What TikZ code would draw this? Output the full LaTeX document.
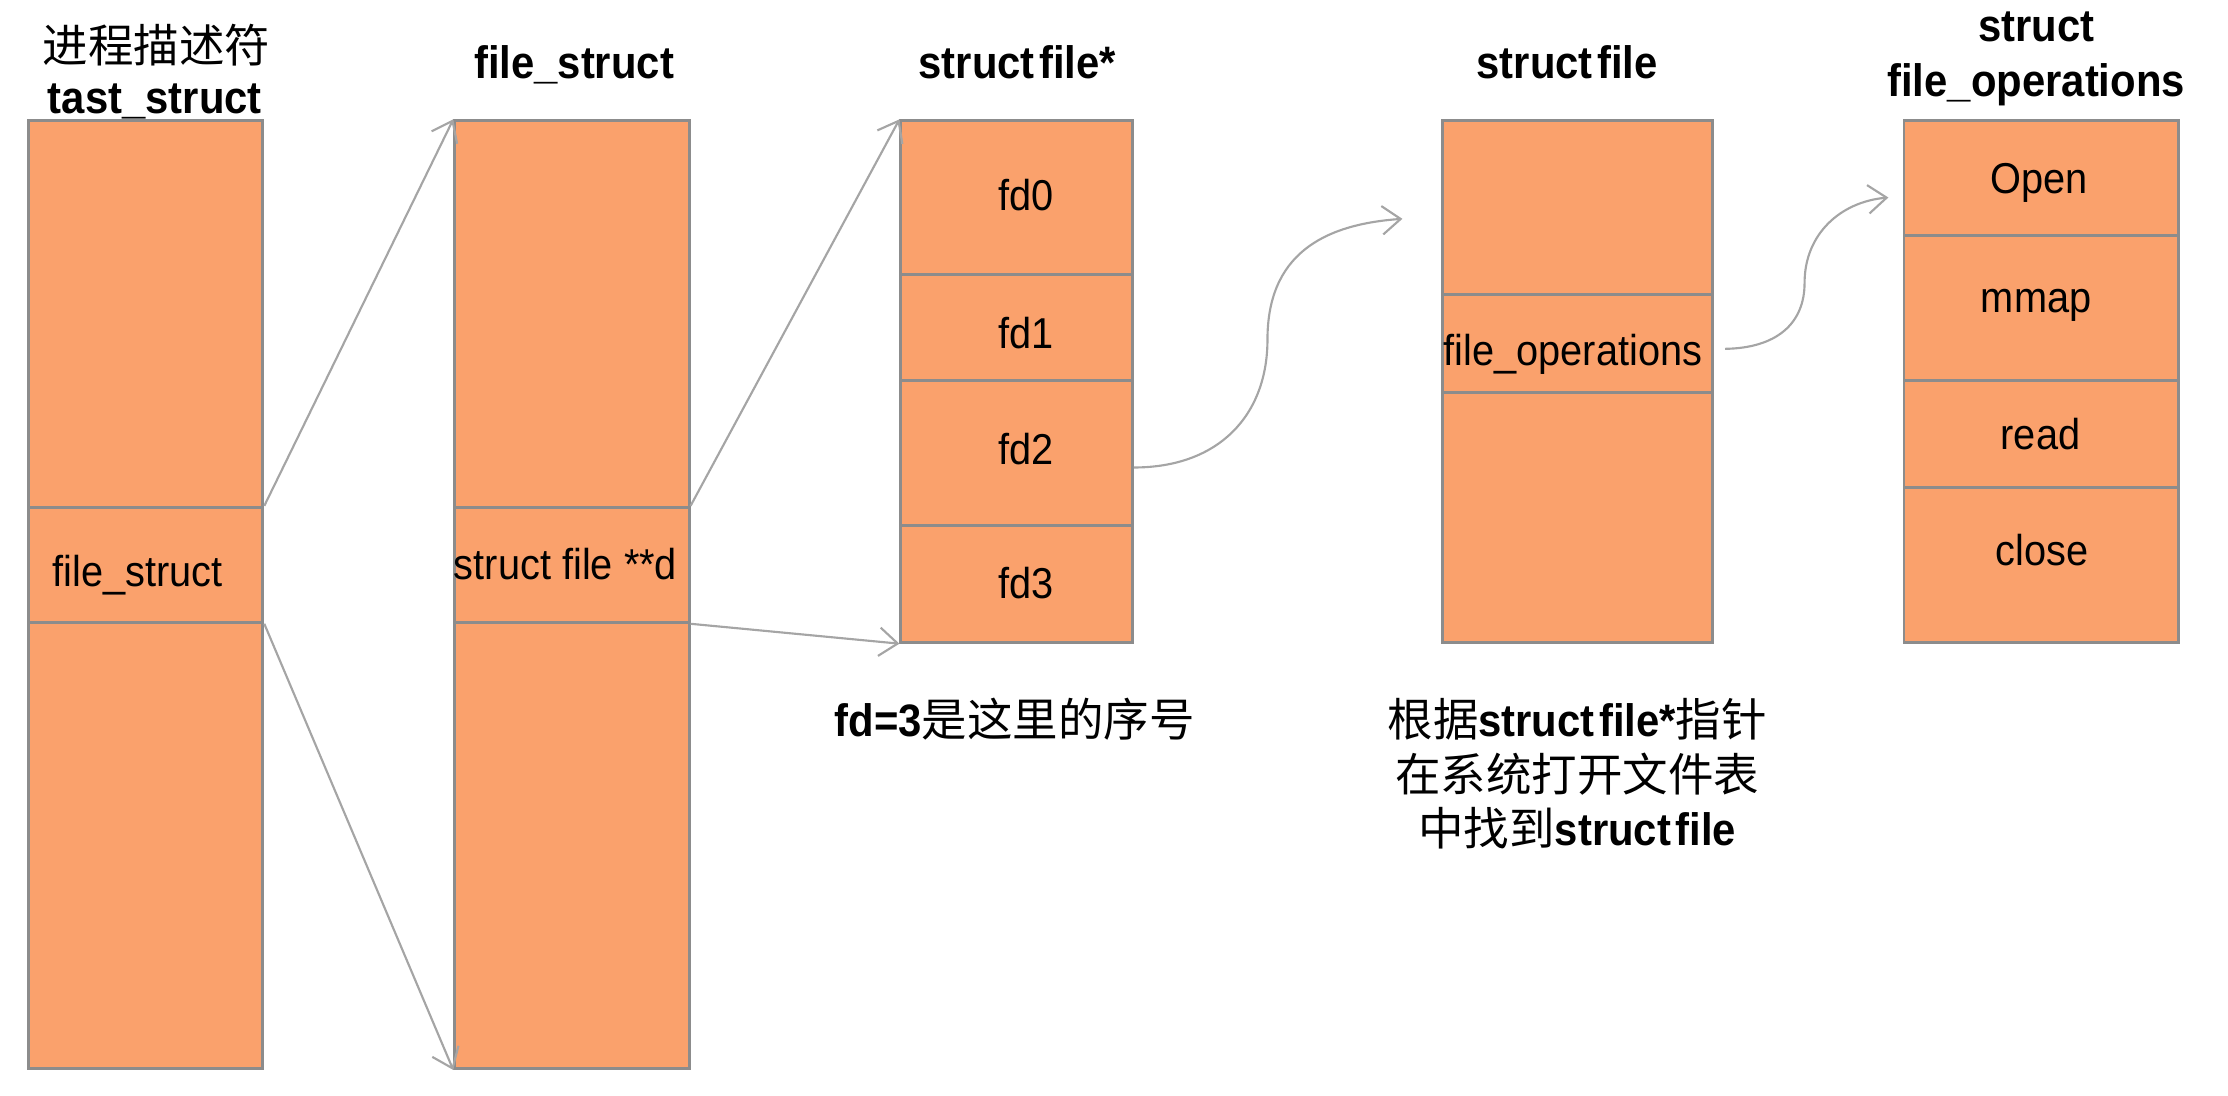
\documentclass[tikz,border=0pt]{standalone}
\usepackage{fontspec}
\setmainfont{Liberation Sans}[FakeStretch=0.92]
\newfontfamily\cjk{Noto Sans CJK SC}
\usetikzlibrary{arrows.meta,fit,calc}
\definecolor{cellfill}{RGB}{250,161,108}
\definecolor{cellline}{RGB}{140,140,140}
\definecolor{conn}{RGB}{165,165,165}
\newcommand\titlefont{\fontsize{16}{19.3}\selectfont}
\newcommand\cellfont{\fontsize{15.2}{18}\selectfont}
\tikzset{
  cellbox/.style={draw=cellline, fill=cellfill, line width=1pt, inner sep=0pt, rectangle},
  celltext/.style={anchor=base, inner sep=0pt, font=\cellfont},
  titletext/.style={anchor=base, inner sep=0pt, font=\titlefont},
  link/.style={draw=conn, line width=0.75pt, -{Straight Barb[length=6.5pt,width=10pt,line width=0.75pt]}}
}
\begin{document}
\begin{tikzpicture}[x=0.5pt,y=-0.5pt]
\useasboundingbox (0,0) rectangle (1568,771);
% box 1 : tast_struct
\node[cellbox, fit={(20,85) (185,357)}] (a1) {};
\node[cellbox, fit={(20,357) (185,438)}] (a2) {};
\node[cellbox, fit={(20,438) (185,752)}] (a3) {};
% box 2 : file_struct
\node[cellbox, fit={(320,85) (485,357)}] (b1) {};
\node[cellbox, fit={(320,357) (485,438)}] (b2) {};
\node[cellbox, fit={(320,438) (485,752)}] (b3) {};
% box 3 : struct file*
\node[cellbox, fit={(634,85) (797,193)}] (c0) {};
\node[cellbox, fit={(634,193) (797,268)}] (c1) {};
\node[cellbox, fit={(634,268) (797,370)}] (c2) {};
\node[cellbox, fit={(634,370) (797,452)}] (c3) {};
% box 4 : struct file
\node[cellbox, fit={(1015,85) (1205,207)}] (d1) {};
\node[cellbox, fit={(1015,207) (1205,276)}] (d2) {};
\node[cellbox, fit={(1015,276) (1205,452)}] (d3) {};
% box 5 : struct file_operations
\node[cellbox, fit={(1340,85) (1533,166)}] (e1) {};
\node[cellbox, fit={(1340,166) (1533,268)}] (e2) {};
\node[cellbox, fit={(1340,268) (1533,343)}] (e3) {};
\node[cellbox, fit={(1340,343) (1533,452)}] (e4) {};
% titles
\node[titletext] (t1a) at (110,44) {\cjk 进程描述符};
\node[titletext] (t1b) at (109,80) {\bfseries tast\_struct};
\node[titletext] (t2) at (404,55) {\bfseries file\_struct};
\node[titletext] (t3) at (716,55) {\bfseries struct\hspace{-2.5pt} file*};
\node[titletext] (t4) at (1103,55) {\bfseries struct\hspace{-2.5pt} file};
\node[titletext] (t5a) at (1433,29) {\bfseries struct};
\node[titletext] (t5b) at (1433,68) {\bfseries file\_operations};
% cell texts
\node[celltext] (x1) at (97,413) {file\_struct};
\node[celltext] (x2) at (398,408) {struct file **d};
\node[celltext] (x3) at (722,148) {fd0};
\node[celltext] (x4) at (722,245) {fd1};
\node[celltext] (x5) at (722,327) {fd2};
\node[celltext] (x6) at (722,421) {fd3};
\node[celltext] (x7) at (1107,257) {file\_operations};
\node[celltext] (x8) at (1435,136) {Open};
\node[celltext] (x9) at (1433,220) {mmap};
\node[celltext] (x10) at (1436,316) {read};
\node[celltext] (x11) at (1437,398) {close};
% bottom notes
\node[titletext] (n1) at (714,518) {\bfseries fd=3\mdseries\cjk 是这里的序号};
\node[titletext] (n2) at (1110,518) {{\cjk 根据}\bfseries struct\hspace{-2.5pt} file*\mdseries\cjk 指针};
\node[titletext] (n3) at (1110,557) {\cjk 在系统打开文件表};
\node[titletext] (n4) at (1110,595) {{\cjk 中找到}\bfseries struct\hspace{-2.5pt} file};
% connectors
\draw[link] (a2.north east) -- (b1.north west);
\draw[link] (a2.south east) -- (b3.south west);
\draw[link] (b2.north east) -- (c0.north west);
\draw[link] (b2.south east) -- (c3.south west);
\coordinate (k1) at (987,154);
\coordinate (k2) at (1329,139);
\draw[link] ($(c2.east)+(0,10)$) .. controls (858,329) and (892,292) .. (892,239)
   .. controls (892,180) and (930,158) .. (k1);
\draw[link] ($(d2.east)+(8,4)$) .. controls (1250,245) and (1270,228) .. (1270,199)
   .. controls (1270,165) and (1295,142) .. (k2);
\end{tikzpicture}
\end{document}
